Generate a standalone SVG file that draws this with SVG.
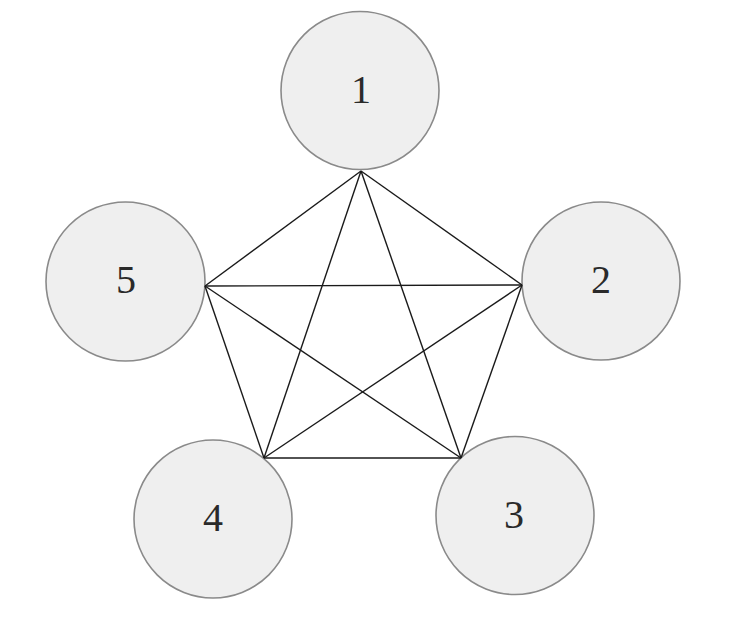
<svg xmlns="http://www.w3.org/2000/svg" width="740" height="619" viewBox="0 0 740 619">
<style>
.n{fill:#efefef;stroke:#8a8a8a;stroke-width:1.6}
.t{font-family:"Liberation Serif","DejaVu Serif",serif;font-size:40px;fill:#2a2a2a;text-anchor:middle;dominant-baseline:central}
.e{stroke:#1a1a1a;stroke-width:1.4;fill:none}
</style>
<rect width="740" height="619" fill="#fff"/>
<g id="node1"><circle class="n" cx="360" cy="90.5" r="79"/><text class="t" x="361" y="89">1</text></g>
<g id="node2"><circle class="n" cx="601" cy="281" r="79"/><text class="t" x="601" y="279">2</text></g>
<g id="node3"><circle class="n" cx="515" cy="515.5" r="79"/><text class="t" x="514" y="514">3</text></g>
<g id="node4"><circle class="n" cx="213" cy="519" r="79"/><text class="t" x="213" y="517">4</text></g>
<g id="node5"><circle class="n" cx="125.5" cy="281.5" r="79.5"/><text class="t" x="126" y="279">5</text></g>
<g id="edges">
<line class="e" x1="361" y1="171" x2="522" y2="285"/>
<line class="e" x1="361" y1="171" x2="205" y2="286"/>
<line class="e" x1="361" y1="171" x2="264" y2="458"/>
<line class="e" x1="361" y1="171" x2="461" y2="458"/>
<line class="e" x1="205" y1="286" x2="522" y2="285"/>
<line class="e" x1="205" y1="286" x2="264" y2="458"/>
<line class="e" x1="205" y1="286" x2="461" y2="458"/>
<line class="e" x1="522" y1="285" x2="264" y2="458"/>
<line class="e" x1="522" y1="285" x2="461" y2="458"/>
<line class="e" x1="264" y1="458" x2="461" y2="458"/>
</g>
</svg>
